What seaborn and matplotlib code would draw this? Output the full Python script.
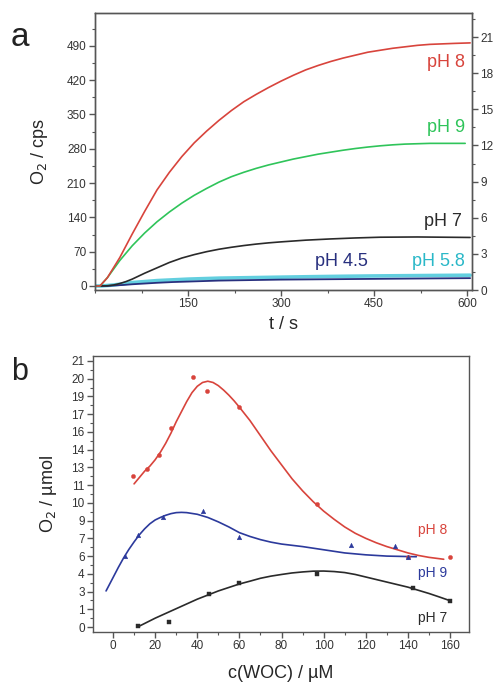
import numpy as np
import pandas as pd
import matplotlib
matplotlib.use("Agg")
import matplotlib.pyplot as plt
import seaborn as sns
from matplotlib.ticker import MultipleLocator, FixedLocator

# ---- panel a : O2 evolution vs time ----
t_ph8 = [0, 8, 20, 40, 60, 80, 100, 120, 140, 160, 180, 200, 220, 240, 260,
         280, 300, 320, 340, 360, 380, 400, 420, 440, 460, 480, 500, 520,
         540, 560, 580, 605]
o2_ph8 = [0, 0, 17, 58, 106, 152, 196, 232, 264, 292, 316, 338, 358, 376,
          391, 405, 418, 430, 441, 450, 458, 465, 471, 477, 481, 485, 488,
          491, 493, 494, 495, 496]
t_ph9 = [0, 8, 20, 40, 60, 80, 100, 120, 140, 160, 180, 200, 220, 240, 260,
         280, 300, 320, 340, 360, 380, 400, 420, 440, 460, 480, 500, 540, 597]
o2_ph9 = [0, 0, 17, 52, 82, 108, 131, 151, 169, 185, 199, 212, 223, 232,
          240, 247, 253, 259, 264, 269, 273, 277, 280.5, 283.5, 286, 288,
          289.5, 291, 291]
t_ph7 = [0, 10, 20, 30, 40, 50, 60, 70, 80, 100, 120, 140, 160, 180, 200,
         220, 240, 260, 280, 300, 340, 380, 420, 460, 520, 605]
o2_ph7 = [0, 0, 0.5, 2, 5, 9, 14, 20, 26, 37, 48, 57, 64, 70, 75, 79, 82.5,
          85.5, 88, 90, 93.5, 96, 98, 99.5, 100, 99]
t_low = [0, 10, 20, 30, 45, 60, 80, 100, 125, 150, 175, 200, 250, 300, 350,
         400, 450, 500, 550, 605]
o2_ph58 = [0, 0, 1, 2, 4.5, 7, 9, 11, 12.5, 14, 15, 16, 17, 18, 19, 19.8,
           20.5, 21, 21.5, 22]
o2_ph45 = [0, 0, 0, 1, 2, 3.5, 5, 6.5, 8, 9, 10, 11, 12, 13, 13.5, 14,
           14.5, 15, 15.5, 16]

# ---- panel b : O2 yield vs catalyst concentration ----
fit8_c = [10, 12.5, 15, 17.5, 20, 22.5, 25, 27.5, 30, 32.5, 35, 37.5, 40,
          42.5, 45, 47.5, 50, 52.5, 55, 57.5, 60, 65, 70, 75, 80, 85, 90,
          95, 100, 105, 110, 115, 120, 125, 130, 135, 140, 145, 150, 157]
fit8_v = [11.3, 11.8, 12.3, 12.7, 13.2, 13.8, 14.5, 15.3, 16.2, 17.0, 17.8,
          18.5, 19.0, 19.3, 19.4, 19.3, 19.05, 18.7, 18.3, 17.85, 17.35,
          16.3, 15.1, 13.9, 12.8, 11.7, 10.75, 9.9, 9.15, 8.5, 7.9, 7.4,
          7.0, 6.65, 6.35, 6.1, 5.85, 5.65, 5.5, 5.35]
fit9_c = [-3.3, 0, 2.5, 5, 7.5, 10, 12.5, 15, 17.5, 20, 22.5, 25, 27.5, 30,
          32.5, 35, 40, 45, 50, 55, 60, 65, 70, 75, 80, 90, 100, 110, 120,
          130, 144]
fit9_v = [2.85, 3.9, 4.7, 5.45, 6.12, 6.72, 7.28, 7.75, 8.15, 8.45, 8.65,
          8.82, 8.95, 9.03, 9.05, 9.03, 8.9, 8.65, 8.3, 7.9, 7.45, 7.15, 6.9,
          6.7, 6.55, 6.35, 6.1, 5.85, 5.7, 5.6, 5.55]
fit7_c = [11.6, 20, 30, 40, 50, 60, 65, 70, 75, 80, 85, 90, 95, 100, 105,
          110, 115, 120, 125, 130, 135, 140, 145, 150, 155, 160]
fit7_v = [0.0, 0.7, 1.45, 2.2, 2.85, 3.4, 3.62, 3.85, 4.02, 4.15, 4.27, 4.35,
          4.41, 4.42, 4.38, 4.3, 4.15, 3.95, 3.75, 3.55, 3.35, 3.15, 2.9,
          2.65, 2.37, 2.08]

pts8_c = [9.7, 16, 21.7, 27.5, 37.8, 44.5, 59.8, 97, 140, 160]
pts8_v = [11.9, 12.5, 13.6, 15.7, 19.75, 18.65, 17.4, 9.73, 5.5, 5.5]
pts9_c = [5.7, 11.7, 23.9, 42.9, 59.8, 113, 134, 140]
pts9_v = [5.6, 7.26, 8.68, 9.16, 7.1, 6.47, 6.39, 5.5]
pts7_c = [12, 26.5, 45.6, 59.8, 97, 142.3, 160]
pts7_v = [0.1, 0.42, 2.58, 3.45, 4.18, 3.05, 2.08]

yb_labels = ["0", "1", "3", "4", "6", "7", "9", "10", "11", "13", "14",
             "16", "17", "19", "20", "21"]

RED = "#d8443c"
GREEN = "#2fc45a"
BLACK = "#2a2a2a"
NAVY = "#28307e"
CYAN = "#3cc3d8"
BLUE = "#2c3a9c"

sns.set_style("ticks")
plt.rcParams["font.family"] = ["Liberation Sans", "DejaVu Sans"]
plt.rcParams["axes.edgecolor"] = "#555555"
plt.rcParams["xtick.color"] = "#555555"
plt.rcParams["ytick.color"] = "#555555"
plt.rcParams["xtick.labelcolor"] = "#333333"
plt.rcParams["ytick.labelcolor"] = "#333333"

fig = plt.figure(figsize=(4.96, 6.84), dpi=100)
ax = fig.add_axes([95 / 496, 1 - 290 / 684, 377 / 496, 277 / 684])
axr = ax.twinx()
bx = fig.add_axes([93 / 496, 1 - 632 / 684, 376 / 496, 276 / 684])

# panel a curves
sns.lineplot(x=t_low, y=o2_ph58, ax=ax, color=CYAN, lw=2.6, alpha=0.8)
sns.lineplot(x=t_low, y=o2_ph45, ax=ax, color=NAVY, lw=1.3)
sns.lineplot(x=t_ph7, y=o2_ph7, ax=ax, color=BLACK, lw=1.2)
sns.lineplot(x=t_ph9, y=o2_ph9, ax=ax, color=GREEN, lw=1.2)
sns.lineplot(x=t_ph8, y=o2_ph8, ax=ax, color=RED, lw=1.2)

ax.set_xlim(0, 608)
ax.set_ylim(-8.2, 557)
axr.set_ylim(0, 23)
ax.xaxis.set_major_locator(FixedLocator([150, 300, 450, 600]))
ax.xaxis.set_minor_locator(MultipleLocator(75))
ax.yaxis.set_major_locator(MultipleLocator(70))
ax.yaxis.set_minor_locator(MultipleLocator(35))
axr.yaxis.set_major_locator(MultipleLocator(3))
axr.yaxis.set_minor_locator(MultipleLocator(1.5))
for a in (ax, axr):
    a.tick_params(which="major", length=4, width=1, labelsize=8.5, pad=2)
    a.tick_params(which="minor", length=2, width=0.8)
ax.set_xlabel("t / s", fontsize=13, labelpad=4)
ax.set_ylabel("O$_2$ / cps", fontsize=13, labelpad=12)

txt = dict(fontsize=13, ha="right", va="center")
ax.text(597, 457, "pH 8", color=RED, **txt)
ax.text(597, 324, "pH 9", color=GREEN, **txt)
ax.text(592, 131, "pH 7", color=BLACK, **txt)
ax.text(440, 49, "pH 4.5", color=NAVY, **txt)
ax.text(597, 49, "pH 5.8", color="#2ab8c8", **txt)

# panel b
sns.lineplot(x=fit8_c, y=fit8_v, ax=bx, color=RED, lw=1.2)
sns.lineplot(x=fit9_c, y=fit9_v, ax=bx, color=BLUE, lw=1.2)
sns.lineplot(x=fit7_c, y=fit7_v, ax=bx, color=BLACK, lw=1.2)
sns.scatterplot(x=pts8_c, y=pts8_v, ax=bx, color=RED, marker="o", s=9,
                edgecolor=RED, linewidth=0.3, zorder=3)
sns.scatterplot(x=pts9_c, y=pts9_v, ax=bx, color=BLUE, marker="^", s=11,
                edgecolor=BLUE, linewidth=0.3, zorder=3)
sns.scatterplot(x=pts7_c, y=pts7_v, ax=bx, color=BLACK, marker="s", s=9,
                edgecolor=BLACK, linewidth=0.3, zorder=3)

bx.set_xlim(-9.5, 169)
bx.set_ylim(-0.39, 21.39)
bx.xaxis.set_major_locator(MultipleLocator(20))
bx.xaxis.set_minor_locator(MultipleLocator(10))
bx.yaxis.set_major_locator(FixedLocator(np.linspace(0, 21, 16)))
bx.yaxis.set_minor_locator(FixedLocator(np.linspace(0.7, 20.3, 15)))
bx.set_yticklabels(yb_labels)
bx.tick_params(which="major", length=4, width=1, labelsize=8.5, pad=2)
bx.tick_params(which="minor", length=2, width=0.8)
bx.set_xlabel("c(WOC) / \u00b5M", fontsize=13, labelpad=9)
bx.set_ylabel("O$_2$ / \u00b5mol", fontsize=13, labelpad=9)

txtb = dict(fontsize=10, ha="right", va="center")
bx.text(158.6, 7.66, "pH 8", color=RED, **txtb)
bx.text(158.6, 4.26, "pH 9", color=BLUE, **txtb)
bx.text(158.6, 0.71, "pH 7", color=BLACK, **txtb)

for a in (ax, axr, bx):
    for s in a.spines.values():
        s.set_linewidth(1)
        s.set_visible(True)

fig.text(20 / 496, 1 - 37 / 684, "a", fontsize=24, ha="center", va="center",
         color="#222222")
fig.text(20 / 496, 1 - 372 / 684, "b", fontsize=22, ha="center", va="center",
         color="#222222")

fig.savefig("out.png", dpi=100)
